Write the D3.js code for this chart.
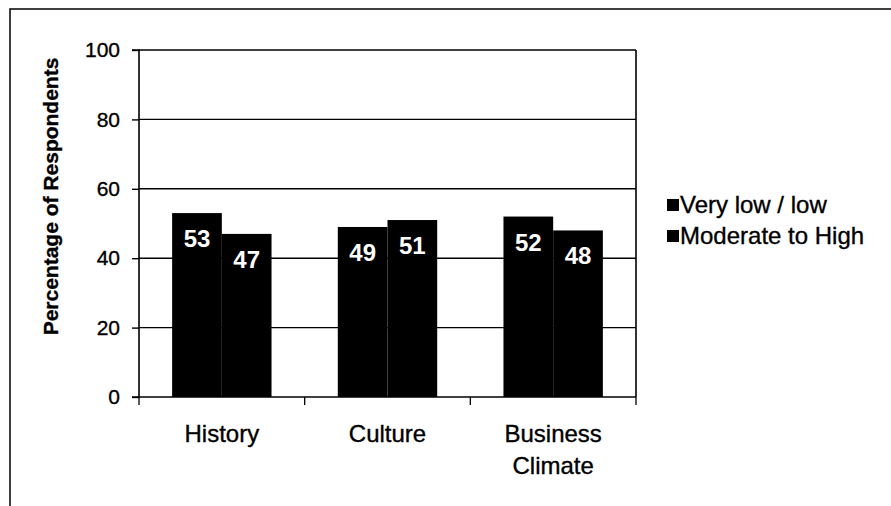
<!DOCTYPE html>
<html>
<head>
<meta charset="utf-8">
<script src="https://cdn.jsdelivr.net/npm/d3@7"></script>
<style>
  html, body { margin: 0; padding: 0; background: #fff; }
  svg { display: block; }
  text { font-family: Arial, "Liberation Sans", Helvetica, sans-serif; fill: #000; }
  .ink { stroke: #000; stroke-width: 0.35px; }
</style>
</head>
<body>
<svg id="chart" width="891" height="506"></svg>
<script>
const categories = [["History"], ["Culture"], ["Business", "Climate"]];
const categoryKeys = ["History", "Culture", "Business Climate"];
const seriesNames = ["Very low / low", "Moderate to High"];
const veryLowLow = [53, 49, 52];
const moderateHigh = [47, 51, 48];
const yTicks = [0, 20, 40, 60, 80, 100];
const yTitle = "Percentage of Respondents";

const svg = d3.select("#chart");
const W = 891, H = 506;
const plot = { left: 139, right: 636, top: 50, bottom: 397 };

// outer frame
svg.append("rect")
  .attr("x", 10).attr("y", 9)
  .attr("width", W + 20).attr("height", H + 20)
  .attr("fill", "none").attr("stroke", "#000").attr("stroke-width", 1.5);

const y = d3.scaleLinear().domain([0, 100]).range([plot.bottom, plot.top]);
const x0 = d3.scaleBand().domain(categoryKeys).range([plot.left, plot.right]).padding(0);
const bw = x0.bandwidth();
const x1 = d3.scaleBand().domain(seriesNames).range([bw * 0.2, bw * 0.8]).padding(0);

// gridlines
svg.append("g").selectAll("line")
  .data(yTicks.filter(d => d > 0))
  .join("line")
  .attr("x1", plot.left).attr("x2", plot.right)
  .attr("y1", d => y(d)).attr("y2", d => y(d))
  .attr("stroke", "#000").attr("stroke-width", 1.4);

// right border of plot area
svg.append("line")
  .attr("x1", plot.right).attr("x2", plot.right)
  .attr("y1", plot.top).attr("y2", plot.bottom)
  .attr("stroke", "#000").attr("stroke-width", 1.6);

// bars
const rows = categoryKeys.map((c, i) => ({ cat: c, vals: [veryLowLow[i], moderateHigh[i]] }));
const groups = svg.append("g").selectAll("g")
  .data(rows).join("g")
  .attr("transform", d => `translate(${x0(d.cat)},0)`);

groups.selectAll("rect")
  .data(d => d.vals.map((v, j) => ({ s: seriesNames[j], v })))
  .join("rect")
  .attr("x", d => x1(d.s))
  .attr("width", x1.bandwidth())
  .attr("y", d => y(d.v))
  .attr("height", d => y(0) - y(d.v))
  .attr("fill", "#000");

groups.selectAll("text.val")
  .data(d => d.vals.map((v, j) => ({ s: seriesNames[j], v })))
  .join("text")
  .attr("class", "val")
  .attr("x", d => x1(d.s) + x1.bandwidth() / 2)
  .attr("y", d => y(d.v) + 34)
  .attr("text-anchor", "middle")
  .style("font-size", "24px")
  .style("font-weight", "bold")
  .style("fill", "#fff")
  .text(d => d.v);

// y axis
const yAxis = d3.axisLeft(y).tickValues(yTicks).tickSize(7).tickPadding(12);
const gy = svg.append("g").attr("transform", `translate(${plot.left},0)`).call(yAxis);
gy.select(".domain").attr("stroke", "#000").attr("stroke-width", 1.6).attr("d", `M-7,${plot.top}H0V${plot.bottom}H-7`);
gy.selectAll(".tick line").attr("stroke", "#000").attr("stroke-width", 1.4);
gy.selectAll(".tick text")
  .attr("class", "ink")
  .style("font-size", "21px")
  .style("font-family", "Arial, 'Liberation Sans', sans-serif")
  .attr("fill", "#000");

// x axis
const gx = svg.append("g").attr("transform", `translate(0,${plot.bottom})`);
gx.append("line")
  .attr("x1", plot.left).attr("x2", plot.right)
  .attr("y1", 0).attr("y2", 0)
  .attr("stroke", "#000").attr("stroke-width", 1.6);
const bounds = categoryKeys.map(c => x0(c)).concat([x0(categoryKeys[categoryKeys.length - 1]) + bw]);
gx.selectAll("line.tk").data(bounds).join("line")
  .attr("class", "tk")
  .attr("x1", d => d).attr("x2", d => d)
  .attr("y1", 0).attr("y2", 8)
  .attr("stroke", "#000").attr("stroke-width", 1.3);

categoryKeys.forEach((c, i) => {
  const t = gx.append("text")
    .attr("class", "ink")
    .attr("x", x0(c) + bw / 2)
    .attr("y", 45)
    .attr("text-anchor", "middle")
    .style("font-size", "24px");
  categories[i].forEach((line, k) => {
    t.append("tspan")
      .attr("x", x0(c) + bw / 2)
      .attr("dy", k === 0 ? 0 : 32)
      .text(line);
  });
});

// y title
svg.append("text")
  .attr("class", "ink")
  .attr("transform", `translate(58,${(57 + 336) / 2}) rotate(-90)`)
  .attr("text-anchor", "middle")
  .style("font-size", "21px")
  .style("font-weight", "bold")
  .text(yTitle);

// legend
const legend = svg.append("g").attr("transform", "translate(667,199)");
seriesNames.forEach((s, i) => {
  const g = legend.append("g").attr("transform", `translate(0,${i * 31})`);
  g.append("rect").attr("x", 0).attr("y", 0).attr("width", 12).attr("height", 12).attr("fill", "#000");
  g.append("text").attr("class", "ink").attr("x", 13).attr("y", 14)
    .style("font-size", "24px")
    .text(s);
});
</script>
</body>
</html>
